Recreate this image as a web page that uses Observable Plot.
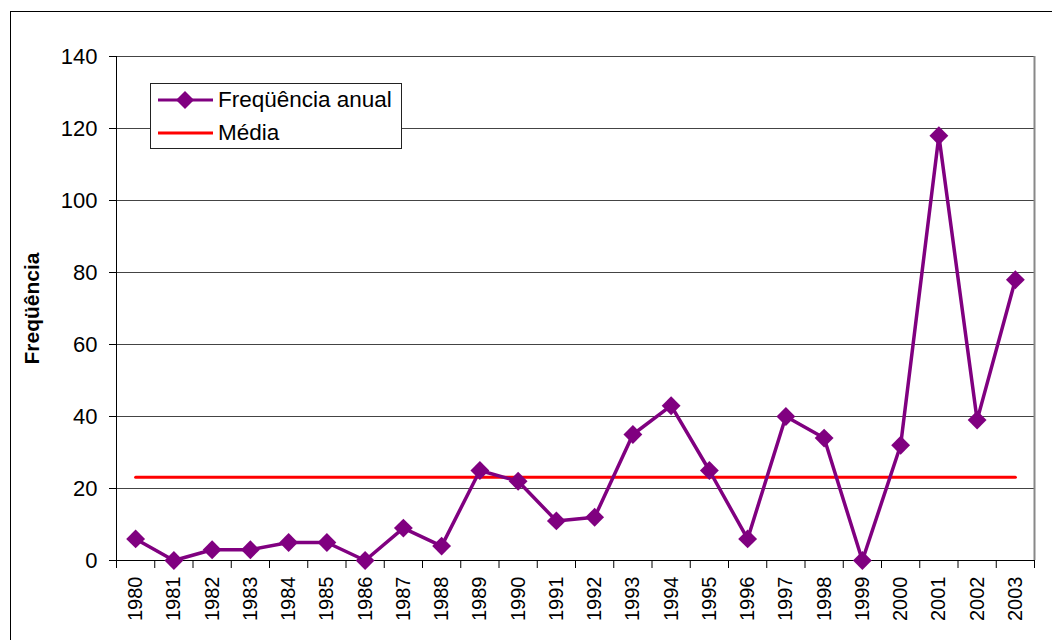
<!DOCTYPE html>
<html>
<head>
<meta charset="utf-8">
<script src="https://cdn.jsdelivr.net/npm/d3@7"></script>
<script src="https://cdn.jsdelivr.net/npm/@observablehq/plot@0.6"></script>
<style>
  html, body { margin: 0; padding: 0; background: #fff; overflow: hidden; }
  #wrap { position: relative; width: 1052px; height: 640px; font-family: "Liberation Sans", Arial, sans-serif; }
  #frame { position: absolute; left: 10px; top: 11px; width: 1200px; height: 800px; border: 1px solid #000; box-sizing: border-box; pointer-events: none; }
  #chart { position: absolute; left: 0; top: 0; }
  #legend { position: absolute; left: 150px; top: 83px; width: 252px; height: 66px; border: 1px solid #222; box-sizing: border-box; background: #fff; font-size: 22.5px; color: #000; }
  .row { position: absolute; left: 0; height: 26px; display: flex; align-items: center; }
  .row svg { margin-left: 7px; }
  .row span { margin-left: 5px; }
</style>
</head>
<body>
<div id="wrap">
  <div id="chart"></div>
  <div id="legend"></div>
  <div id="frame"></div>
</div>
<script>
const years = [1980,1981,1982,1983,1984,1985,1986,1987,1988,1989,1990,1991,1992,1993,1994,1995,1996,1997,1998,1999,2000,2001,2002,2003];
const freq  = [6,0,3,3,5,5,0,9,4,25,22,11,12,35,43,25,6,40,34,0,32,118,39,78];
const yTicks = [0,20,40,60,80,100,120,140];
const seriesNames = ["Freqüência anual", "Média"];
const colors = ["#800080", "#FF0000"];

const mean = d3.mean(freq);
const data = years.map((y, i) => ({year: y, value: freq[i], mean}));
const boundaries = years.map(y => y - 0.5).concat([years[years.length - 1] + 0.5]);

const chart = Plot.plot({
  width: 1052,
  height: 640,
  marginLeft: 116,
  marginRight: 18,
  marginTop: 56,
  marginBottom: 80,
  style: {fontFamily: '"Liberation Sans", Arial, sans-serif', background: "transparent"},
  x: {type: "linear", domain: [boundaries[0], boundaries[boundaries.length - 1]]},
  y: {domain: [0, 140]},
  marks: [
    Plot.gridY(yTicks, {stroke: "#444", strokeOpacity: 1, strokeWidth: 1}),
    Plot.ruleX([boundaries[boundaries.length - 1]], {stroke: "#888", strokeWidth: 2}),
    Plot.axisY(yTicks, {tickSize: 7, tickPadding: 12, fontSize: 22, label: null, stroke: "#000"}),
    Plot.axisY([], {label: "Freqüência", labelAnchor: "center", labelArrow: "none", labelOffset: 92, fontSize: 21, tickSize: 0}),
    Plot.ruleX([boundaries[0]], {stroke: "#000"}),
    Plot.ruleY([0], {stroke: "#000"}),
    Plot.axisX(boundaries, {tickSize: 8, tickFormat: () => "", label: null, stroke: "#000"}),
    Plot.axisX(years, {tickSize: 0, tickPadding: 16, tickRotate: -90, tickFormat: d => String(d), fontSize: 20, label: null}),
    Plot.line(data, {x: "year", y: "mean", stroke: colors[1], strokeWidth: 3}),
    Plot.line(data, {x: "year", y: "value", stroke: colors[0], strokeWidth: 3.5}),
    Plot.dot(data, {x: "year", y: "value", symbol: "diamond2", r: 8.5, fill: colors[0], stroke: "none"})
  ]
});
document.getElementById("chart").appendChild(chart);
chart.querySelectorAll('[aria-label="y-axis label"] text').forEach(t => { t.setAttribute("font-weight", "bold"); });

const legend = document.getElementById("legend");
seriesNames.forEach((name, i) => {
  const row = document.createElement("div");
  row.className = "row";
  row.style.top = (i === 0 ? 3 : 36) + "px";
  const marker = i === 0 ? '<path d="M27,2 L36,11 L27,20 L18,11 Z" fill="' + colors[0] + '"/>' : '';
  row.innerHTML = '<svg width="55" height="22"><line x1="0" x2="55" y1="11" y2="11" stroke="' + colors[i] + '" stroke-width="3"/>' + marker + '</svg><span>' + name + '</span>';
  legend.appendChild(row);
});
</script>
</body>
</html>
